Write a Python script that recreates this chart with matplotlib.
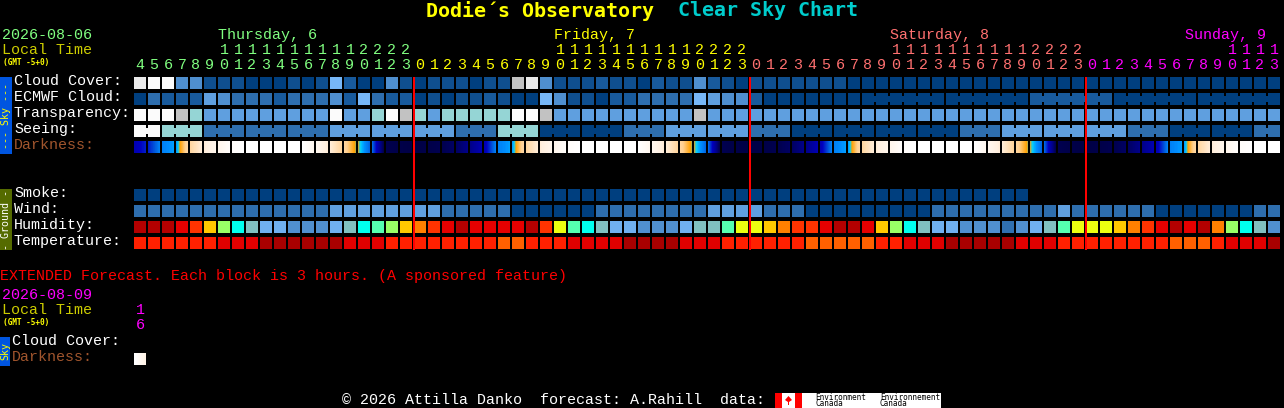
import matplotlib
matplotlib.use("Agg")
import matplotlib.pyplot as plt
import numpy
from matplotlib.colors import LinearSegmentedColormap
from matplotlib.patches import Rectangle, Polygon

# hour of each block, Thursday 4h to Sunday 13h
hours = [4, 5, 6, 7, 8, 9, 10, 11, 12, 13, 14, 15, 16, 17, 18, 19, 20, 21, 22, 23,
         0, 1, 2, 3, 4, 5, 6, 7, 8, 9, 10, 11, 12, 13, 14, 15, 16, 17, 18, 19, 20, 21, 22, 23,
         0, 1, 2, 3, 4, 5, 6, 7, 8, 9, 10, 11, 12, 13, 14, 15, 16, 17, 18, 19, 20, 21, 22, 23,
         0, 1, 2, 3, 4, 5, 6, 7, 8, 9, 10, 11, 12, 13]

# cloud style levels, index into sky_colors
cloud = [9, 10, 10, 4, 4, 1, 1, 1, 0, 0, 0, 1, 0, 1, 6, 2, 0, 0, 4, 1,
         0, 1, 1, 1, 0, 1, 1, 8, 9, 4, 1, 1, 1, 2, 1, 1, 0, 2, 1, 1, 4, 2, 1, 0,
         1, 1, 1, 1, 1, 1, 1, 0, 0, 0, 0, 0, 0, 0, 0, 0, 0, 0, 0, 0, 0, 0, 0, 0,
         0, 0, 0, 0, 0, 0, 0, 0, 0, 0, 0, 0, 0, 0]
ecmwf = [0, 3, 2, 2, 2, 5, 4, 3, 3, 3, 2, 3, 3, 3, 4, 2, 6, 3, 2, 2,
         0, 1, 0, 1, 1, 2, 1, 0, 0, 6, 4, 1, 1, 0, 2, 2, 3, 3, 3, 3, 6, 5, 4, 4,
         2, 0, 0, 0, 0, 0, 0, 0, 0, 0, 0, 0, 0, 0, 0, 0, 0, 0, 0, 0, 2, 2, 2, 2,
         2, 2, 0, 0, 0, 0, 0, 0, 0, 0, 0, 0, 0, 0]
transparency = [10, 10, 10, 8, 7, 5, 5, 5, 5, 5, 5, 5, 5, 5, 10, 5, 5, 7, 10, 8,
                7, 5, 7, 7, 7, 7, 7, 10, 10, 8, 5, 5, 5, 5, 5, 5, 5, 5, 5, 5, 8, 5, 5, 5,
                5, 5, 5, 5, 5, 5, 5, 5, 5, 5, 5, 5, 5, 5, 5, 5, 5, 5, 5, 5, 5, 5, 5, 5,
                5, 5, 5, 5, 5, 5, 5, 5, 5, 5, 5, 5, 5, 5]
seeing = [10, 10, 7, 7, 7, 3, 3, 3, 3, 3, 3, 3, 3, 3, 5, 5, 5, 5, 5, 5,
          5, 5, 5, 3, 3, 3, 7, 7, 7, 0, 0, 0, 0, 0, 0, 3, 3, 3, 5, 5, 5, 5, 5, 5,
          3, 3, 3, 0, 0, 0, 0, 0, 0, 0, 0, 0, 0, 0, 0, 3, 3, 3, 5, 5, 5, 5, 5, 5,
          5, 5, 5, 3, 3, 3, 0, 0, 0, 0, 0, 0, 3, 3]
smoke = [0] * 64
wind = [3, 3, 3, 3, 3, 3, 3, 3, 3, 3, 3, 3, 3, 3, 5, 5, 5, 5, 5, 5,
        5, 5, 3, 3, 3, 3, 3, 0, 0, 0, 0, 0, 0, 3, 3, 3, 3, 3, 3, 3, 3, 5, 5, 5,
        5, 3, 3, 3, 0, 0, 0, 0, 0, 0, 0, 0, 0, 3, 3, 3, 3, 3, 3, 3, 3, 3, 5, 3,
        3, 3, 3, 3, 3, 0, 0, 0, 0, 0, 0, 0, 3, 3]
humidity = [0, 0, 0, 1, 2, 4, 6, 8, 9, 10, 10, 11, 11, 11, 10, 9, 8, 7, 6, 4,
            3, 2, 1, 0, 1, 1, 1, 1, 0, 2, 5, 7, 8, 9, 10, 10, 11, 11, 11, 10, 9, 9, 7, 5,
            5, 4, 3, 2, 2, 1, 0, 0, 1, 4, 6, 8, 9, 10, 10, 11, 11, 11, 12, 11, 10, 9, 7, 5,
            5, 5, 4, 3, 2, 1, 0, 1, 0, 3, 6, 8, 9, 11]
temperature = [2, 2, 2, 2, 2, 2, 1, 1, 1, 0, 0, 0, 0, 0, 0, 1, 1, 1, 2, 2,
               2, 2, 2, 2, 2, 2, 3, 3, 2, 2, 2, 1, 1, 1, 1, 0, 0, 0, 0, 1, 1, 1, 2, 2,
               2, 2, 2, 2, 3, 3, 3, 3, 3, 2, 2, 1, 1, 1, 0, 0, 0, 0, 0, 1, 1, 1, 2, 2,
               2, 2, 2, 2, 2, 2, 3, 3, 3, 2, 1, 1, 1, 0]
# darkness at the edges of the blocks, 0 is night, 1 is full daylight
darkness = [.27, .33, .44, .47, .66, .78, .88, .97, 1, 1, 1, 1, 1, .90, .78, .65, .52, .41, .10, .08,
            .07, .08, .10, .13, .19, .27, .44, .47, .66, .78, .88, .97, 1, 1, 1, 1, 1, .90, .78, .65, .52, .41, .10, .08,
            .07, .08, .10, .13, .19, .27, .44, .47, .66, .78, .88, .97, 1, 1, 1, 1, 1, .90, .78, .65, .52, .41, .10, .08,
            .07, .08, .10, .13, .19, .27, .44, .47, .66, .78, .88, .97, 1, 1, 1]

sky_colors = ["#003f7f", "#0f4f8f", "#185a9c", "#2e6eae", "#4f8fcf", "#5f9fdf",
              "#77b7f7", "#95d5d5", "#c2c2c2", "#eaeaea", "#fbfbfb"]
humidity_colors = ["#b30000", "#e60000", "#ff3300", "#ff8000", "#ffc800", "#ecff10", "#99ff66",
                   "#55ffb0", "#00ffee", "#80c0c0", "#70b0f0", "#5090d0", "#3070b0"]
temperature_colors = ["#a80000", "#e00000", "#ff2000", "#ff6000"]
dark_cmap = LinearSegmentedColormap.from_list("dark", [
    (0.00, "#000030"), (0.10, "#000050"), (0.20, "#000090"), (0.30, "#0000c0"),
    (0.40, "#0060e0"), (0.46, "#0090ff"), (0.50, "#00d0ff"), (0.53, "#ffa000"),
    (0.62, "#ffd090"), (0.80, "#fff0e0"), (1.00, "#ffffff")])

GREEN = "#80ff80"
YELLOW = "#ffff00"
SALMON = "#ff7070"
MAGENTA = "#ff00ff"
OLIVE = "#cccc00"
BROWN = "#a0552d"
MONO = "Liberation Mono"
SMALL = "DejaVu Sans Mono"

fig = plt.figure(figsize=(12.84, 4.08), dpi=100, facecolor="black")
ax = fig.add_axes([0, 0, 1, 1])
ax.set_facecolor("black")
ax.axis("off")


def text(x, y, s, color="white", size=10.8, family=MONO, **kw):
    ax.text(x, y, s, color=color, fontsize=size, family=family, va="center", ha=kw.pop("ha", "left"), **kw)


def side(x, y, s, color):
    ax.text(x, y, s, color=color, fontsize=7.2, family=SMALL, rotation=90, ha="center", va="center")


def box(x, y, w, h, color):
    ax.add_patch(Rectangle((x, y), w, h, facecolor=color, edgecolor="none", antialiased=False))


def col_x(k):
    return 134 + 14 * k


def draw_row(y, values, colors, joined=None):
    for k, v in enumerate(values):
        box(col_x(k), y, 12, 12, colors[v])
        if joined is not None and k + 1 < len(values) and joined(k):
            box(col_x(k) + 12, y + 3, 2, 6, colors[v])


def seeing_joined(k):
    return hours[k + 1] % 3 != 0


def ecmwf_joined(k):
    return k >= 52 and hours[k + 1] % 6 != 2


draw_row(77, cloud, sky_colors)
draw_row(93, ecmwf, sky_colors, ecmwf_joined)
draw_row(109, transparency, sky_colors)
draw_row(125, seeing, sky_colors, seeing_joined)
draw_row(189, smoke, sky_colors)
draw_row(205, wind, sky_colors)
draw_row(221, humidity, humidity_colors)
draw_row(237, temperature, temperature_colors)

for k in range(len(hours)):
    strip = numpy.linspace(darkness[k], darkness[k + 1], 12).reshape(1, -1)
    ax.imshow(strip, cmap=dark_cmap, vmin=0, vmax=1, aspect="auto", interpolation="nearest",
              extent=(col_x(k), col_x(k) + 12, 153, 141))

# extended forecast block
ax.imshow(numpy.array([[1.0, .95, .9, .85]]), cmap=dark_cmap, vmin=0, vmax=1, aspect="auto",
          interpolation="bilinear", extent=(134, 146, 365, 353))

ax.set_xlim(0, 1284)
ax.set_ylim(408, 0)

# midnight lines
for k in [20, 44, 68]:
    box(col_x(k) - 1, 77, 2, 173, "#ff0000")

# title
text(426, 11, "Dodie\u00b4s Observatory", YELLOW, size=14.4, family=SMALL, weight="bold")
text(678, 11, "Clear Sky Chart", "#00cccc", size=14.4, family=SMALL, weight="bold")

# header
text(2, 35, "2026-08-06", GREEN)
text(2, 50, "Local Time", OLIVE)
text(3, 62, "(GMT -5+0)", YELLOW, size=5.6, family=SMALL, weight="bold")
text(218, 35, "Thursday, 6", GREEN)
text(554, 35, "Friday, 7", YELLOW)
text(890, 35, "Saturday, 8", SALMON)
text(1185, 35, "Sunday, 9", MAGENTA)

for k, h in enumerate(hours):
    if k < 20:
        c = GREEN
    elif k < 44:
        c = YELLOW
    elif k < 68:
        c = SALMON
    else:
        c = MAGENTA
    if h >= 10:
        text(col_x(k) + 6, 50, str(h // 10), c, ha="center")
    text(col_x(k) + 6, 65, str(h % 10), c, ha="center")

# row labels
text(14, 81, "Cloud Cover:")
text(14, 97, "ECMWF Cloud:")
text(14, 113, "Transparency:")
text(14, 129, "Seeing:")
text(14, 145, "Darkness:", BROWN)
text(14, 193, "Smoke:")
text(14, 209, "Wind:")
text(14, 225, "Humidity:")
text(14, 241, "Temperature:")

# side bars
box(0, 77, 12, 77, "#0055e0")
side(6, 116, "--- Sky ---", YELLOW)
box(0, 189, 12, 61, "#556b00")
side(6, 219.5, "- Ground -", "white")

# extended forecast
text(0, 276, "EXTENDED Forecast. Each block is 3 hours. (A sponsored feature)", "#ff0000")
text(2, 295, "2026-08-09", MAGENTA)
text(2, 310, "Local Time", OLIVE)
text(3, 322, "(GMT -5+0)", YELLOW, size=5.6, family=SMALL, weight="bold")
text(140, 310, "1", MAGENTA, ha="center")
text(140, 325, "6", MAGENTA, ha="center")
text(12, 341, "Cloud Cover:")
text(12, 357, "Darkness:", BROWN)
box(0, 337, 10, 29, "#0055e0")
side(5, 351, "Sky", YELLOW)

# footer
text(342, 400, "\u00a9 2026 Attilla Danko  forecast: A.Rahill  data:")
box(775, 393, 166, 15, "white")
box(775, 393, 7, 15, "#ff0000")
box(795, 393, 7, 15, "#ff0000")
ax.add_patch(Polygon([(788.5, 396), (792, 400), (789, 402), (789, 405), (788, 405), (788, 402), (785, 400)],
                     facecolor="#ff0000", edgecolor="none"))
text(815, 397, "Environment", "black", size=5.6, family=SMALL)
text(815, 404, "Canada", "black", size=5.6, family=SMALL)
text(880, 397, "Environnement", "black", size=5.6, family=SMALL)
text(880, 404, "Canada", "black", size=5.6, family=SMALL)

fig.savefig("out.png", dpi=100, facecolor="black")
